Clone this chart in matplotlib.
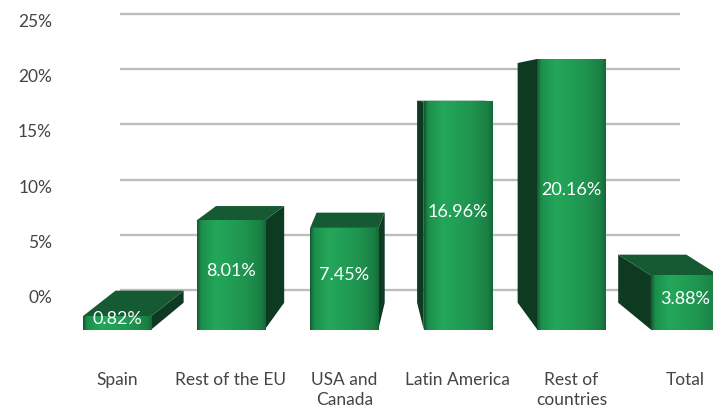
import numpy as np
import matplotlib
matplotlib.use("Agg")
import matplotlib.pyplot as plt
from matplotlib.patches import Polygon, Rectangle
from matplotlib.colors import LinearSegmentedColormap
from matplotlib.transforms import ScaledTranslation, blended_transform_factory

# Return by region (%)
categories = ["Spain", "Rest of the EU", "USA and\nCanada", "Latin America",
              "Rest of\ncountries", "Total"]
values = [0.82, 8.01, 7.45, 16.96, 20.16, 3.88]
y_ticks = [0, 5, 10, 15, 20, 25]
y_tick_labels = ["0%", "5%", "10%", "15%", "20%", "25%"]

W, H, DPI = 713, 413, 100
TEXT_GREY = "#444444"
FONT = "Lato"

fig = plt.figure(figsize=(W / DPI, H / DPI), dpi=DPI)

# --- back wall: gridlines and value axis labels ---
ax_wall = fig.add_axes([120 / W, 0, 560 / W, 1])
ax_wall.set_xlim(0, 1)
ax_wall.set_ylim(-11.14, 26.27)
ax_wall.set_yticks(y_ticks)
ax_wall.grid(axis="y", color="#bdbdbd", linewidth=1.7)
ax_wall.tick_params(left=False, labelleft=False, bottom=False, labelbottom=False)
for s in ax_wall.spines.values():
    s.set_visible(False)
ax_wall.patch.set_visible(False)

lab_tr = blended_transform_factory(ax_wall.transAxes, ax_wall.transData) + \
    ScaledTranslation(0, -8 / DPI, fig.dpi_scale_trans)
for t, lab in zip(y_ticks, y_tick_labels):
    ax_wall.text(-68 / 560, t, lab, transform=lab_tr, ha="right", va="center",
                 fontsize=12.5, color=TEXT_GREY, family=FONT)

# --- front plane: the 3D bars ---
ax = fig.add_axes([0, 0, 1, 1])
ax.axis("off")
ax.patch.set_visible(False)

base = -0.2          # floor level of the bars
bar_w = 0.6
vp = (2.49, 17.44)   # vanishing point in data units
depth = 0.115        # how far the back face is pulled towards the vanishing point

face_cmap = LinearSegmentedColormap.from_list("face", [
    (0.0, "#12582f"), (0.06, "#1c8f4c"), (0.28, "#24a75a"),
    (0.7, "#1f9450"), (0.93, "#1a7f44"), (1.0, "#146836")])
grad = np.linspace(0, 1, 256).reshape(1, -1)
side_color = "#0f3a22"
top_color = "#155a33"

for i, v in enumerate(values):
    xl, xr = i - bar_w / 2, i + bar_w / 2
    dx = depth * (vp[0] - i)
    dyt = depth * (vp[1] - v)
    dyb = depth * (vp[1] - base)

    sx = xl if dx < 0 else xr
    side = Polygon([(sx, base), (sx, v), (sx + dx, v + dyt), (sx + dx, base + dyb)],
                   closed=True, facecolor=side_color, edgecolor="none", zorder=1)
    ax.add_patch(side)

    if dyt > 0:
        top = Polygon([(xl, v), (xr, v), (xr + dx, v + dyt), (xl + dx, v + dyt)],
                      closed=True, facecolor=top_color, edgecolor="none", zorder=1)
        ax.add_patch(top)

    front = Rectangle((xl, base), bar_w, v - base, facecolor="none", edgecolor="none")
    ax.add_patch(front)
    im = ax.imshow(grad, cmap=face_cmap, extent=(xl, xr, base, v),
                   aspect="auto", zorder=2)
    im.set_clip_path(front)

    ax.text(i, (base + v) / 2 + 0.3, f"{v:.2f}%", ha="center", va="center",
            fontsize=13, color="white", family=FONT, zorder=3)

    ax.text(i, -3.4, categories[i], ha="center", va="top", fontsize=12.5,
            color=TEXT_GREY, family=FONT, linespacing=1.3)

ax.set_xlim(-1.03, 5.246)
ax.set_ylim(-6.466, 24.586)

fig.savefig("out.png", dpi=DPI, facecolor="white")
